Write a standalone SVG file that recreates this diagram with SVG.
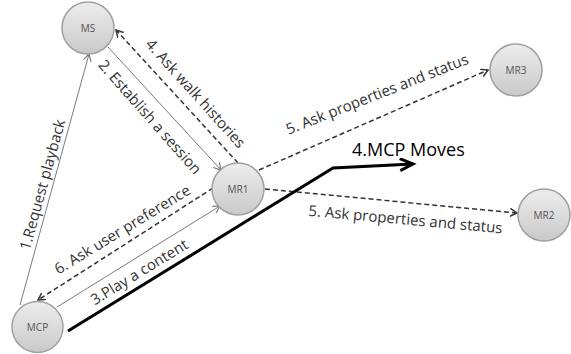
<svg xmlns="http://www.w3.org/2000/svg" width="571" height="354" viewBox="0 0 571 354">
<defs>
<linearGradient id="nodeFill" x1="0" y1="0" x2="0" y2="1">
<stop offset="0" stop-color="#ededed"/>
<stop offset="1" stop-color="#c9c9c9"/>
</linearGradient>
<marker id="arrThin" markerWidth="10" markerHeight="10" refX="7" refY="4" orient="auto" markerUnits="userSpaceOnUse">
<path d="M0,0 L7,4 L0,8" fill="none" stroke="#777" stroke-width="1.2"/>
</marker>
<marker id="arrDash" markerWidth="10" markerHeight="10" refX="7" refY="4" orient="auto" markerUnits="userSpaceOnUse">
<path d="M0,0 L7,4 L0,8" fill="none" stroke="#333" stroke-width="1.5"/>
</marker>
<marker id="arrBold" markerWidth="20" markerHeight="20" refX="14" refY="7" orient="auto" markerUnits="userSpaceOnUse">
<path d="M1,1 L14,7 L1,13" fill="none" stroke="#000" stroke-width="3"/>
</marker>
</defs>
<style>
.node circle{fill:url(#nodeFill);stroke:#a0a0a0;stroke-width:1.5}
.node text{font-family:"Open Sans","Noto Sans",sans-serif;font-size:10px;fill:#555;text-anchor:middle}
.solid{fill:none;stroke:#7a7a7a;stroke-width:1;marker-end:url(#arrThin)}
.dash{fill:none;stroke:#333;stroke-width:1.5;stroke-dasharray:5 3;marker-end:url(#arrDash)}
.bold{fill:none;stroke:#000;stroke-width:3;marker-end:url(#arrBold)}
.lbl{font-family:"Open Sans","Noto Sans",sans-serif;font-size:15px;fill:#333;text-anchor:middle}
.big{font-family:"Open Sans","Noto Sans",sans-serif;font-size:18px;fill:#000}
</style>
<rect width="571" height="354" fill="#fff"/>
<g id="connectors">
<line class="solid" x1="20" y1="305" x2="89" y2="54"/>
<line class="solid" x1="108" y1="47" x2="221" y2="170"/>
<line class="dash" x1="238" y1="163" x2="116" y2="30"/>
<line class="dash" x1="259" y1="170" x2="488" y2="70"/>
<line class="dash" x1="265" y1="189" x2="517" y2="213"/>
<line class="dash" x1="213" y1="188" x2="38" y2="300"/>
<line class="solid" x1="57" y1="307" x2="220" y2="206"/>
<polyline class="bold" points="68,331 333,168 413,164"/>
<text class="lbl" transform="translate(47.5,186) rotate(-74.6)">1.Request playback</text>
<text class="lbl" transform="translate(146,120.5) rotate(48.5)">2. Establish a session</text>
<text class="lbl" transform="translate(191.7,97) rotate(48)">4. Ask walk histories</text>
<text class="lbl" transform="translate(379,99) rotate(-21.5)">5. Ask properties and status</text>
<text class="lbl" transform="translate(405,224.5) rotate(5.2)">5. Ask properties and status</text>
<text class="lbl" transform="translate(125,234) rotate(-31.5)">6. Ask user preference</text>
<text class="lbl" transform="translate(142,276.5) rotate(-31.5)">3.Play a content</text>
<text class="big" x="352" y="156">4.MCP Moves</text>
</g>
<g id="MS" class="node"><circle cx="88" cy="28" r="26"/><text x="88" y="32">MS</text></g>
<g id="MR1" class="node"><circle cx="238" cy="189" r="26"/><text x="238" y="193">MR1</text></g>
<g id="MCP" class="node"><circle cx="37.5" cy="327" r="25.5"/><text x="37.5" y="331">MCP</text></g>
<g id="MR3" class="node"><circle cx="516" cy="70" r="26"/><text x="516" y="74">MR3</text></g>
<g id="MR2" class="node"><circle cx="544" cy="215" r="26"/><text x="544" y="219">MR2</text></g>
</svg>
